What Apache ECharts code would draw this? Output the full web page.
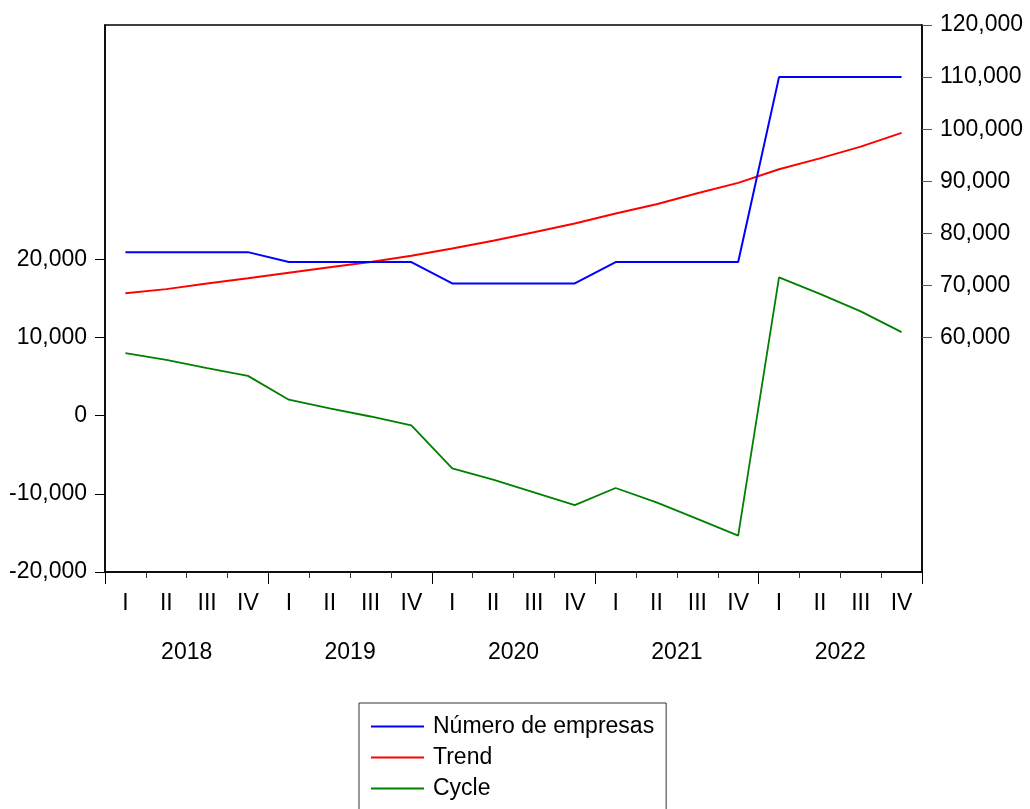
<!DOCTYPE html>
<html>
<head>
<meta charset="utf-8">
<script src="https://cdn.jsdelivr.net/npm/echarts@6/dist/echarts.min.js"></script>
<style>
html,body{margin:0;padding:0;background:#fff;}
#chart{width:1030px;height:809px;}
</style>
</head>
<body>
<div id="chart"></div>
<script>
const quarterLabels = ['I','II','III','IV','I','II','III','IV','I','II','III','IV','I','II','III','IV','I','II','III','IV'];
const years = ['2018','2019','2020','2021','2022'];
const empresas = [76400,76400,76400,76400,74500,74500,74500,74500,70400,70400,70400,70400,74500,74500,74500,74500,110000,110000,110000,110000];
const trend = [68500,69300,70400,71400,72450,73500,74500,75700,77100,78600,80200,81900,83800,85600,87700,89700,92300,94400,96650,99300];
const cycle = [8000,7150,6100,5100,2050,950,-100,-1250,-6750,-8180,-9800,-11450,-9250,-11100,-13200,-15350,17700,15600,13350,10700];
const leftTicks = [-20000,-10000,0,10000,20000];
const rightTicks = [60000,70000,80000,90000,100000,110000,120000];

const FONT = '"Liberation Sans", Arial, sans-serif';
const fmt = v => Number(v).toLocaleString('en-US');

const chart = echarts.init(document.getElementById('chart'), null, {renderer:'canvas'});
chart.setOption({
  animation: false,
  backgroundColor: '#fff',
  textStyle: {fontFamily: FONT},
  grid: {left: 105, right: 108, top: 25, bottom: 237, show: true, borderColor: '#000', borderWidth: 1.5, containLabel: false},
  legend: {
    orient: 'vertical', left: 359, top: 703, height: 120, width: 320,
    padding: [12, 12, 12, 12],
    borderColor: '#333', borderWidth: 1, backgroundColor: '#fff',
    itemWidth: 53, itemHeight: 2, itemGap: 8, icon: 'rect',
    textStyle: {fontFamily: FONT, fontSize: 23, color: '#000', lineHeight: 23, padding: [0,0,0,4]},
    data: ['Número de empresas', 'Trend', 'Cycle']
  },
  xAxis: [
    {
      type: 'category', data: quarterLabels, position: 'bottom', boundaryGap: true,
      axisLine: {show: true, onZero: false, lineStyle: {color: '#000', width: 1.5}},
      axisTick: {show: true, interval: 0, length: 6, lineStyle: {color: '#333'}},
      axisLabel: {interval: 0, fontSize: 23, color: '#000', fontFamily: FONT, margin: 20},
      splitLine: {show: false}
    },
    {
      type: 'category', data: years, position: 'bottom', boundaryGap: true,
      axisLine: {show: false, onZero: false},
      axisTick: {show: true, interval: 0, length: 12, lineStyle: {color: '#000'}},
      axisLabel: {interval: 0, fontSize: 23, color: '#000', fontFamily: FONT, margin: 69},
      splitLine: {show: false}
    }
  ],
  yAxis: [
    {
      type: 'value', position: 'left', min: -20000, max: 50000,
      axisLine: {show: true, lineStyle: {color: '#000', width: 1.5}},
      axisTick: {show: true, customValues: leftTicks, length: 10, inside: false, lineStyle: {color: '#000'}},
      axisLabel: {customValues: leftTicks, formatter: fmt, fontSize: 23, color: '#000', fontFamily: FONT, margin: 18, padding: [0,0,11,0]},
      splitLine: {show: false}
    },
    {
      type: 'value', position: 'right', min: 15000, max: 120000,
      axisLine: {show: true, lineStyle: {color: '#000', width: 1.5}},
      axisTick: {show: true, customValues: rightTicks, length: 10, inside: false, lineStyle: {color: '#555'}},
      axisLabel: {customValues: rightTicks, formatter: fmt, fontSize: 23, color: '#000', fontFamily: FONT, margin: 18, padding: [0,0,11,0]},
      splitLine: {show: false}
    }
  ],
  series: [
    {name: 'Número de empresas', type: 'line', xAxisIndex: 0, yAxisIndex: 1, data: empresas, symbol: 'none', color: '#0000FF', lineStyle: {color: '#0000FF', width: 2}, z: 3},
    {name: 'Trend', type: 'line', xAxisIndex: 0, yAxisIndex: 1, data: trend, symbol: 'none', color: '#FF0000', lineStyle: {color: '#FF0000', width: 2}, z: 2},
    {name: 'Cycle', type: 'line', xAxisIndex: 0, yAxisIndex: 0, data: cycle, symbol: 'none', color: '#008000', lineStyle: {color: '#008000', width: 1.8}, z: 1}
  ]
});
</script>
</body>
</html>
